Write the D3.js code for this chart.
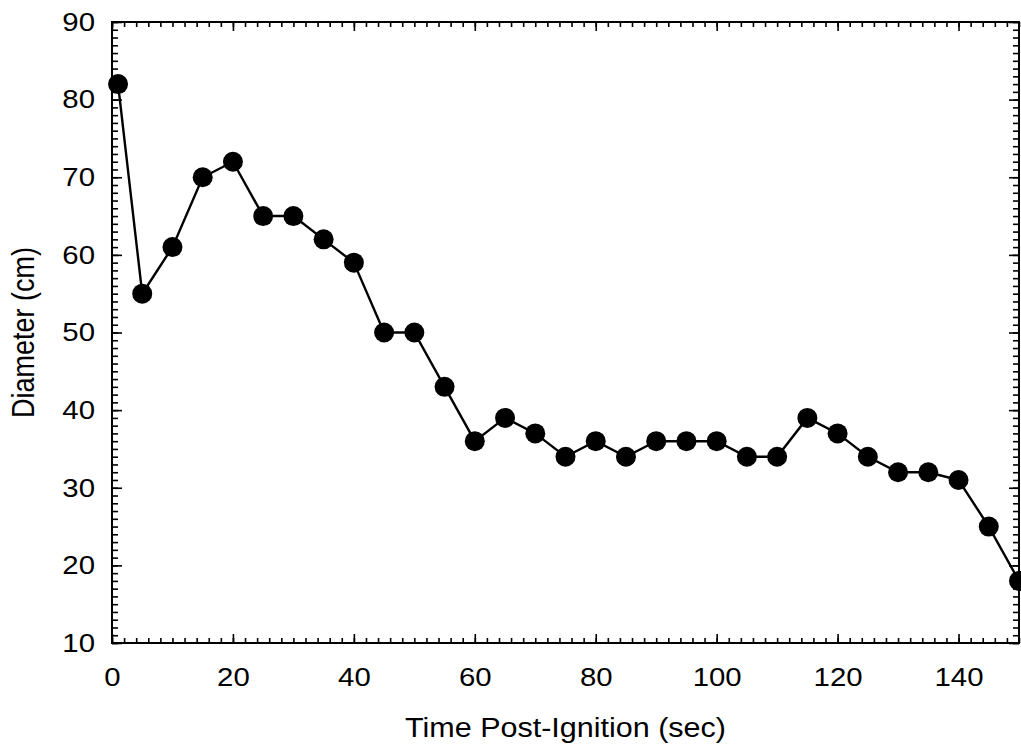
<!DOCTYPE html>
<html>
<head>
<meta charset="utf-8">
<script src="https://cdn.jsdelivr.net/npm/d3@7"></script>
<style>
  body { margin: 0; background: #fff; }
  text { font-family: "Liberation Sans", Arial, sans-serif; fill: #000; }
</style>
</head>
<body>
<div id="chart"></div>
<script>
var times = [1, 5, 10, 15, 20, 25, 30, 35, 40, 45, 50, 55, 60, 65, 70, 75, 80, 85, 90, 95, 100, 105, 110, 115, 120, 125, 130, 135, 140, 145, 150];
var diameters = [82, 55, 61, 70, 72, 65, 65, 62, 59, 50, 50, 43, 36, 39, 37, 34, 36, 34, 36, 36, 36, 34, 34, 39, 37, 34, 32, 32, 31, 25, 18];
var xTicks = [0, 20, 40, 60, 80, 100, 120, 140];
var yTicks = [10, 20, 30, 40, 50, 60, 70, 80, 90];

var dataset = times.map(function(t, i) { return {t: t, d: diameters[i]}; });

var margin = {top: 22, right: 2, bottom: 107, left: 112};
var width = 1021 - margin.left - margin.right;
var height = 750 - margin.top - margin.bottom;

// the original text is a bit wider than the font, stretch it a little
var stretch = 1.13;

var svg = d3.select("#chart")
  .append("svg")
  .attr("width", 1021)
  .attr("height", 750)
  .append("g")
  .attr("transform", "translate(" + margin.left + "," + margin.top + ")");

var xScale = d3.scaleLinear().domain([0, 150]).range([0, width]);
var yScale = d3.scaleLinear().domain([10, 90]).range([height, 0]);

// minor ticks on all four sides
var xMinor = d3.range(0, 151, 2);
var yMinor = d3.range(10, 91, 1);

function tickAxis(axis, values, size, pad, fmt) {
  return axis.tickValues(values).tickSize(-size).tickPadding(pad).tickFormat(fmt);
}

svg.append("g").attr("transform", "translate(0," + height + ")")
  .call(tickAxis(d3.axisBottom(xScale), xMinor, 5, 0, ""));
svg.append("g")
  .call(tickAxis(d3.axisTop(xScale), xMinor, 5, 0, ""));
svg.append("g")
  .call(tickAxis(d3.axisLeft(yScale), yMinor, 6, 0, ""));
svg.append("g").attr("transform", "translate(" + width + ",0)")
  .call(tickAxis(d3.axisRight(yScale), yMinor, 6, 0, ""));

// major ticks with labels
svg.append("g").attr("class", "x-axis")
  .attr("transform", "translate(0," + height + ")")
  .call(tickAxis(d3.axisBottom(xScale), xTicks, 9, 25, d3.format("d")));
svg.append("g")
  .call(tickAxis(d3.axisTop(xScale), xTicks, 9, 0, ""));
svg.append("g").attr("class", "y-axis")
  .call(tickAxis(d3.axisLeft(yScale), yTicks, 10, 17, d3.format("d")));
svg.append("g").attr("transform", "translate(" + width + ",0)")
  .call(tickAxis(d3.axisRight(yScale), yTicks, 10, 0, ""));

svg.selectAll(".domain").remove();
svg.selectAll(".tick line").attr("stroke", "#000").attr("stroke-width", 1.6);
svg.selectAll(".x-axis text, .y-axis text")
  .style("font-size", "26px")
  .style("font-family", "'Liberation Sans', Arial, sans-serif")
  .attr("fill", "#000")
  .each(function() {
    var w = this.getComputedTextLength();
    d3.select(this).attr("textLength", w * stretch).attr("lengthAdjust", "spacingAndGlyphs");
  });

// frame
svg.append("rect")
  .attr("x", 0).attr("y", 0)
  .attr("width", width).attr("height", height)
  .attr("fill", "none")
  .attr("stroke", "#000")
  .attr("stroke-width", 2);

// line + markers
var line = d3.line()
  .x(function(d) { return xScale(d.t); })
  .y(function(d) { return yScale(d.d); });

svg.append("path")
  .datum(dataset)
  .attr("d", line)
  .attr("fill", "none")
  .attr("stroke", "#000")
  .attr("stroke-width", 2.4);

svg.selectAll(".dot")
  .data(dataset)
  .enter().append("circle")
  .attr("class", "dot")
  .attr("cx", function(d) { return xScale(d.t); })
  .attr("cy", function(d) { return yScale(d.d); })
  .attr("r", 10)
  .attr("fill", "#000");

// axis titles
var xTitle = svg.append("text")
  .attr("x", width / 2)
  .attr("y", height + 94)
  .attr("text-anchor", "middle")
  .style("font-size", "27px")
  .text("Time Post-Ignition (sec)");
xTitle.attr("textLength", xTitle.node().getComputedTextLength() * stretch)
  .attr("lengthAdjust", "spacingAndGlyphs");

svg.append("text")
  .attr("transform", "translate(" + (-margin.left + 34) + "," + (height / 2) + ") rotate(-90) scale(1," + stretch + ")")
  .attr("text-anchor", "middle")
  .style("font-size", "27px")
  .text("Diameter (cm)");
</script>
</body>
</html>
